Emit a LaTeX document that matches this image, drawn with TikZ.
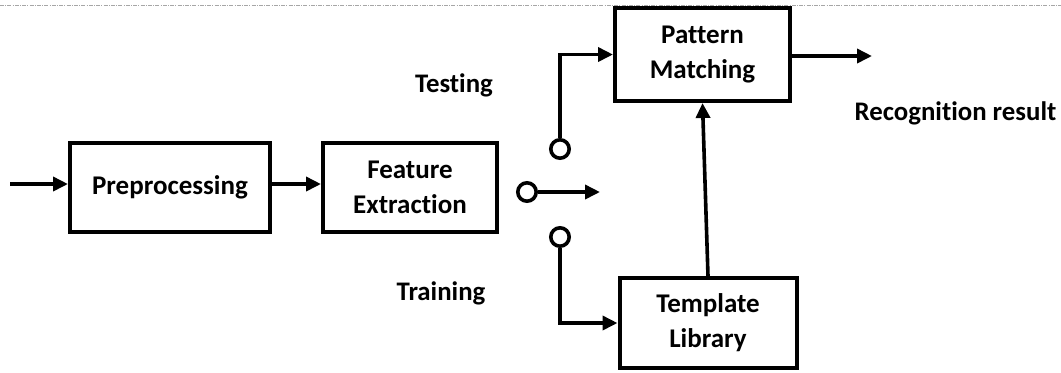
\documentclass[tikz,border=0pt]{standalone}
\usepackage{fontspec}
\setmainfont{Carlito}[Ligatures=NoCommon]
\usetikzlibrary{arrows.meta}
\begin{document}
\begin{tikzpicture}[x=0.5pt,y=-0.5pt,
  blk/.style={draw,line width=2pt,align=center,inner sep=0pt,
    font=\fontsize{13.5}{17.5}\selectfont\bfseries},
  lbl/.style={font=\fontsize{13.4}{17}\selectfont\bfseries,inner sep=0pt},
  sw/.style={circle,draw,fill=white,line width=1.8pt,minimum size=9.2pt,inner sep=0pt},
  conn/.style={line width=1.8pt,-{Triangle[length=7.5pt,width=7pt]}},
  wire/.style={line width=1.8pt}]
\useasboundingbox (0,0) rectangle (1061,372);
\draw[gray!70,line width=0.4pt,dash pattern=on 2pt off 0.6pt on 0.5pt off 0.6pt] (0,5) -- (1061,5);
% blocks
\node[blk,minimum width=100pt,minimum height=44.5pt] (pre) at (170,187.5) {Preprocessing};
\node[blk,minimum width=87pt,minimum height=44.5pt] (fe) at (410,187.5) {Feature\\Extraction};
\node[blk,minimum width=87.5pt,minimum height=46.5pt] (pm) at (702.5,54.5) {Pattern\\Matching};
\node[blk,minimum width=88.5pt,minimum height=45pt] (tl) at (708,323) {Template\\Library};
% switch contacts
\node[sw] (ct) at (560,149) {};
\node[sw] (cm) at (527,192) {};
\node[sw] (cb) at (560,237) {};
% coordinates
\coordinate (in) at (10,184);
\coordinate (mid) at (600,192);
\coordinate (out) at (872,56);
% connectors
\draw[conn] (in) -- (in -| pre.west);
\draw[conn] (pre.east |- in) -- (fe.west |- in);
\draw[conn] (cm.east) -- (mid);
\draw[conn] (ct.north) |- (pm.west);
\draw[conn] (cb.south) |- (tl.west);
\draw[conn] (tl.north) -- (pm.south);
\draw[conn] (pm.east |- out) -- (out);
% labels
\node[lbl] (testing) at (454,85) {Testing};
\node[lbl] (training) at (441,293) {Training};
\node[lbl] (result) at (955.5,113) {Recognition result};
\end{tikzpicture}
\end{document}
